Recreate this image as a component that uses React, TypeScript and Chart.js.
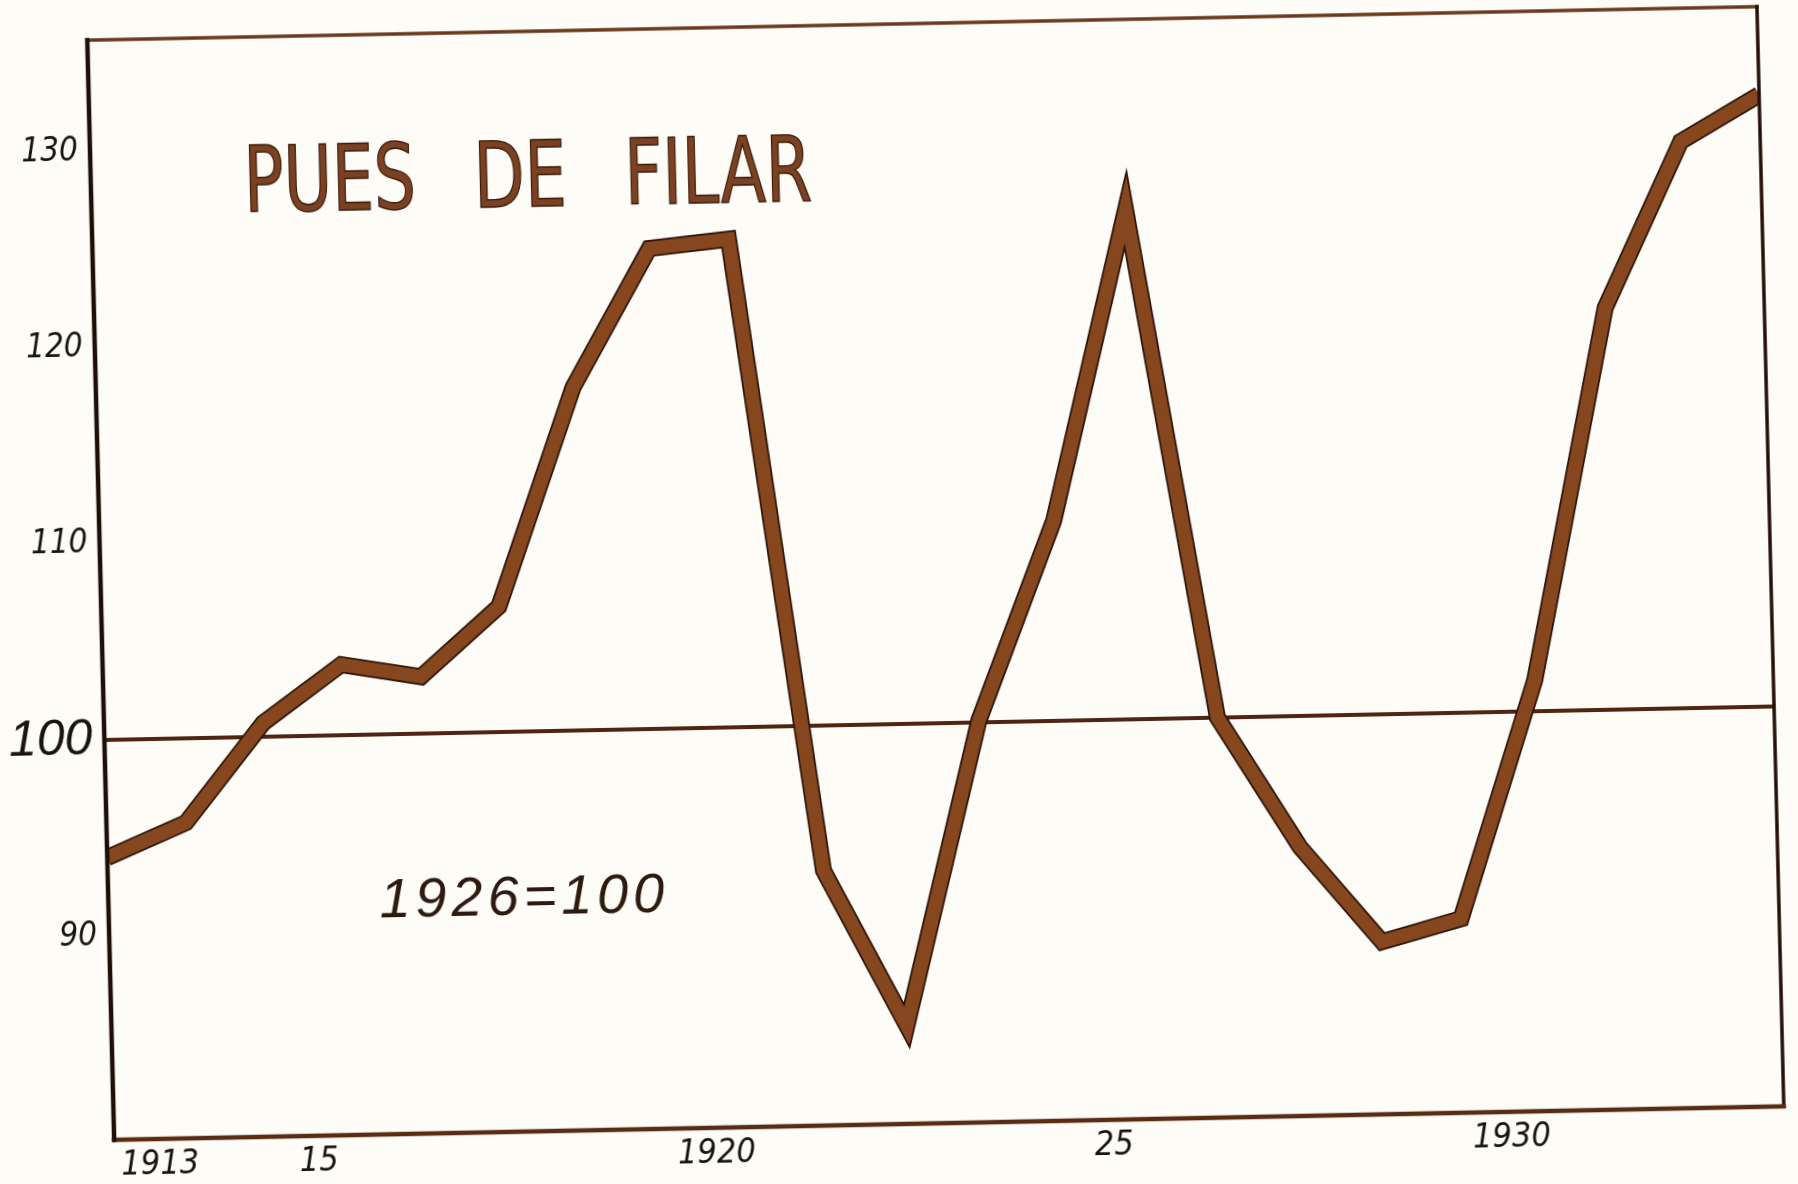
import { useEffect, useRef } from "react";
import { Chart, registerables } from "chart.js";

Chart.register(...registerables);

// ---- data ----
const years = [1912, 1913, 1914, 1915, 1916, 1917, 1918, 1919, 1920, 1921, 1922, 1923, 1924, 1925, 1926, 1927, 1928, 1929, 1930, 1931, 1932, 1933];
const indexValues = [94.0, 95.7, 100.7, 103.6, 102.9, 106.4, 117.5, 124.5, 124.9, 92.6, 84.6, 100.1, 110.2, 126.0, 100.0, 93.3, 88.4, 89.5, 101.6, 120.5, 128.9, 131.2];
const xTickYears = [1913, 1915, 1920, 1925, 1930];
const xTickLabels = ["1913", "15", "1920", "25", "1930"];
const yTickValues = [90, 100, 110, 120, 130];
const yTickLabels = ["90", "100", "110", "120", "130"];
const titleWords = ["PUES", "DE", "FILAR"];
const baseText = "1926=100";

// ---- styles ----
const PAPER = "#fdfcf6";
const INK = "#1c130e";
const LINE_BROWN = "#86471f";
const LINE_DARK = "#2c1409";
const BASE_LINE = "#4e2613";
const NARROW = '"Liberation Sans Narrow", "DejaVu Sans Condensed", sans-serif';
const WIDE = '"Liberation Sans", "DejaVu Sans", sans-serif';

export default function App() {
  const ref = useRef<HTMLCanvasElement>(null);

  useEffect(() => {
    const canvas = ref.current;
    if (!canvas) return;
    const points = years.map((yr, i) => ({ x: yr, y: indexValues[i] }));

    const decor = {
      id: "decor",
      beforeDraw(chart: any) {
        const { ctx, width, height } = chart;
        ctx.save();
        ctx.fillStyle = PAPER;
        ctx.fillRect(0, 0, width, height);
        ctx.restore();
      },
      afterDraw(chart: any) {
        const { ctx } = chart;
        const { left, right, top, bottom } = chart.chartArea;
        ctx.save();
        ctx.lineCap = "square";
        const side = (x1: number, y1: number, x2: number, y2: number, c: string, w: number) => {
          ctx.beginPath();
          ctx.strokeStyle = c;
          ctx.lineWidth = w;
          ctx.moveTo(x1, y1);
          ctx.lineTo(x2, y2);
          ctx.stroke();
        };
        side(left, top, right, top, "#6a391c", 3.5);
        side(right, top, right, bottom, "#241008", 3.5);
        side(left, bottom, right, bottom, "#5a2c14", 4.5);
        side(left, top, left, bottom, "#1e0f08", 4.5);

        // title
        ctx.font = `400 90px ${NARROW}`;
        ctx.textBaseline = "alphabetic";
        ctx.textAlign = "left";
        const widths = titleWords.map((w) => ctx.measureText(w).width);
        const sumW = widths.reduce((a, b) => a + b, 0);
        const sx = 452 / sumW;
        let cx = left + 153;
        const by = top + 175;
        titleWords.forEach((w, i) => {
          ctx.save();
          ctx.translate(cx, by);
          ctx.scale(sx, 1);
          ctx.fillStyle = "#7a4222";
          ctx.fillText(w, 0, 0);
          ctx.lineWidth = 1.4;
          ctx.strokeStyle = "#3a1a0b";
          ctx.strokeText(w, 0, 0);
          ctx.restore();
          cx += widths[i] * sx + 58;
        });

        // base note
        ctx.font = `italic 400 56px ${WIDE}`;
        const bw = ctx.measureText(baseText).width;
        (ctx as any).letterSpacing = `${Math.max(0, (285 - bw) / 7)}px`;
        ctx.fillStyle = "#2e1a10";
        ctx.fillText(baseText, left + 271, top + 883);
        (ctx as any).letterSpacing = "0px";
        ctx.restore();
      },
    };

    const chart = new Chart(canvas, {
      type: "line",
      data: {
        datasets: [
          {
            data: points,
            borderColor: LINE_BROWN,
            borderWidth: 13.5,
            borderJoinStyle: "miter",
            borderCapStyle: "butt",
            pointRadius: 0,
            tension: 0,
            fill: false,
            clip: 0,
          },
          {
            data: points,
            borderColor: LINE_DARK,
            borderWidth: 17,
            borderJoinStyle: "miter",
            borderCapStyle: "butt",
            pointRadius: 0,
            tension: 0,
            fill: false,
            clip: 0,
          },
        ],
      },
      options: {
        animation: false,
        responsive: false,
        maintainAspectRatio: false,
        devicePixelRatio: 1,
        layout: { padding: { top: 24, right: 27, left: 0, bottom: 0 } },
        plugins: {
          legend: { display: false },
          tooltip: { enabled: false },
          title: { display: false },
        },
        scales: {
          x: {
            type: "linear",
            min: 1912,
            max: 1933,
            afterFit: (s: any) => {
              s.height = 60;
              s.paddingLeft = 0;
              s.paddingRight = 0;
            },
            afterBuildTicks: (s: any) => {
              s.ticks = xTickYears.map((v) => ({ value: v }));
            },
            grid: { display: false, drawTicks: false },
            border: { display: false },
            ticks: {
              autoSkip: false,
              maxRotation: 0,
              minRotation: 0,
              labelOffset: -34,
              padding: 6,
              color: INK,
              font: { family: NARROW, size: 34, style: "italic", weight: "normal" },
              callback: (v: any) => {
                const i = xTickYears.indexOf(Number(v));
                return i >= 0 ? xTickLabels[i] : "";
              },
            },
          },
          y: {
            type: "linear",
            min: 79.6,
            max: 135.7,
            afterFit: (s: any) => {
              s.width = 101;
              s.paddingTop = 0;
              s.paddingBottom = 0;
            },
            afterBuildTicks: (s: any) => {
              s.ticks = yTickValues.map((v) => ({ value: v }));
            },
            grid: {
              drawTicks: false,
              color: (c: any) => (c.tick && c.tick.value === 100 ? BASE_LINE : "rgba(0,0,0,0)"),
              lineWidth: 4,
            },
            border: { display: false },
            ticks: {
              padding: 12,
              color: INK,
              font: (c: any) =>
                c.tick && c.tick.value === 100
                  ? { family: WIDE, size: 50, style: "italic", weight: "normal" }
                  : { family: NARROW, size: 33, style: "italic", weight: "normal" },
              callback: (v: any) => {
                const i = yTickValues.indexOf(Number(v));
                return i >= 0 ? yTickLabels[i] : "";
              },
            },
          },
        },
      },
      plugins: [decor],
    } as any);

    return () => chart.destroy();
  }, []);

  return (
    <div
      style={{
        position: "absolute",
        left: 0,
        top: 0,
        width: 1798,
        height: 1184,
        overflow: "hidden",
        background: PAPER,
      }}
    >
      <canvas
        ref={ref}
        width={1798}
        height={1184}
        style={{
          display: "block",
          width: 1798,
          height: 1184,
          transform: "rotate(-1.15deg) skewX(0.25deg)",
          transformOrigin: "50% 50%",
        }}
      />
    </div>
  );
}
